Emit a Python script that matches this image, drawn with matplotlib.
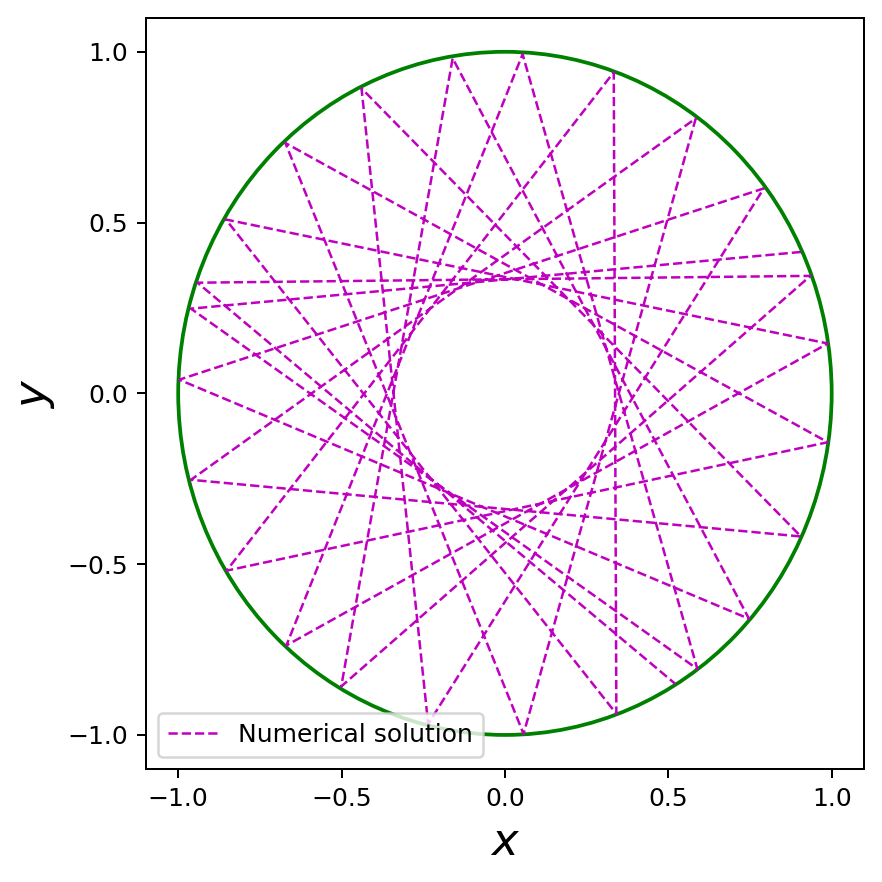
import matplotlib
matplotlib.use("Agg")
import matplotlib.pyplot as plt
from matplotlib.patches import Circle

# Bounce points of the numerical trajectory (in order)
x_sol = [0.906, -0.961, 0.589, 0.054, -0.669, 0.988, -0.854, 0.341, 0.333,
         -0.852, 0.988, -0.672, 0.057, 0.584, -0.961, 0.906, -0.439, -0.235,
         0.792, -0.997, 0.747, -0.160, -0.501, 0.935, -0.941, 0.522]
y_sol = [0.414, 0.248, -0.807, 0.993, -0.738, 0.146, 0.509, -0.938, 0.940,
         -0.519, -0.143, 0.733, -0.997, 0.805, -0.253, -0.419, 0.893, -0.968,
         0.600, 0.040, -0.660, 0.981, -0.858, 0.344, 0.324, -0.851]
boundary_radius = 1.0
label_sol = "Numerical solution"

fig = plt.figure(figsize=(4.9, 4.9), dpi=180)
ax = fig.add_axes([0.165, 0.128, 0.815, 0.852])

ax.plot(x_sol, y_sol, 'm--', linewidth=1.0, label=label_sol)
ax.add_patch(Circle((0, 0), boundary_radius, fill=False, edgecolor='g', linewidth=1.5))

ax.set_xlim(-1.1, 1.1)
ax.set_ylim(-1.1, 1.1)
ax.set_xticks([-1.0, -0.5, 0.0, 0.5, 1.0])
ax.set_yticks([-1.0, -0.5, 0.0, 0.5, 1.0])
ax.set_xlabel('$x$', fontsize=18)
ax.set_ylabel('$y$', fontsize=18)
ax.legend(loc='lower left')

fig.savefig('out.png', dpi=180)
